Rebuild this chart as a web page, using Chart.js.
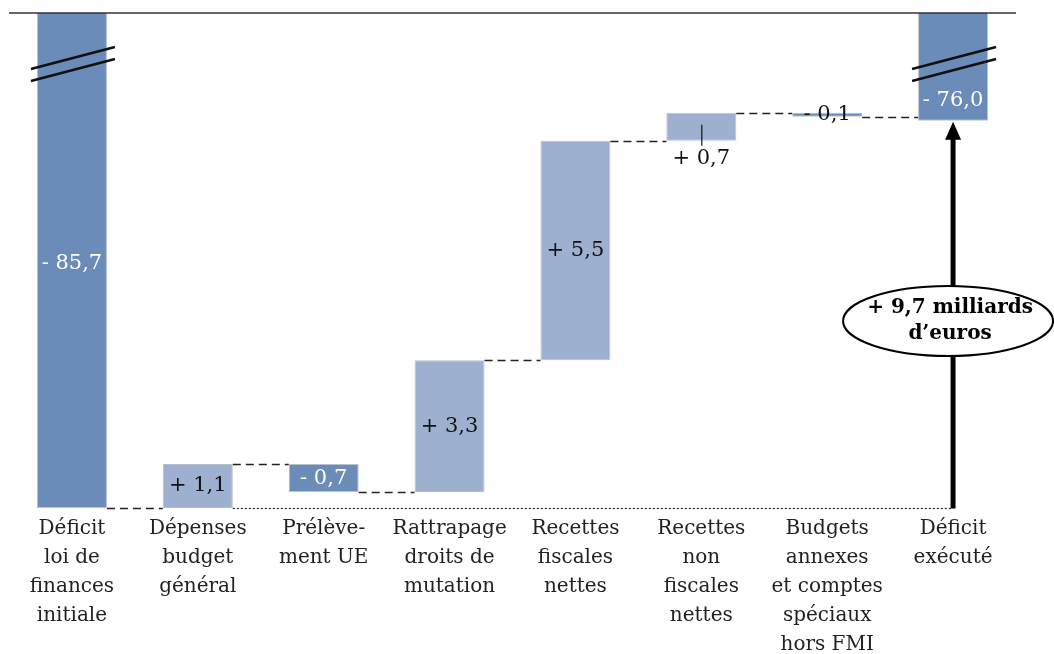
<!DOCTYPE html>
<html>
<head>
<meta charset="utf-8">
<script src="https://cdn.jsdelivr.net/npm/chart.js@4.4.0/dist/chart.umd.min.js"></script>
<style>
  html, body { margin: 0; padding: 0; background: #fff; }
  #wrap { width: 1054px; height: 654px; }
</style>
</head>
<body>
<div id="wrap"><canvas id="chart"></canvas></div>
<script>
// Passage du déficit de la LFI au déficit exécuté (milliards d'euros)
const categories = [
  ['Déficit', 'loi de', 'finances', 'initiale'],
  ['Dépenses', 'budget', 'général'],
  ['Prélève-', 'ment UE'],
  ['Rattrapage', 'droits de', 'mutation'],
  ['Recettes', 'fiscales', 'nettes'],
  ['Recettes', 'non', 'fiscales', 'nettes'],
  ['Budgets', 'annexes', 'et comptes', 'spéciaux', 'hors FMI'],
  ['Déficit', 'exécuté']
];
const deficitInitial = -85.7;
const variations = [1.1, -0.7, 3.3, 5.5, 0.7, -0.1];
const deficitFinal = -76.0;
const valueLabels = ['- 85,7', '+ 1,1', '- 0,7', '+ 3,3', '+ 5,5', '+ 0,7', '- 0,1', '- 76,0'];
const ecartLabel = ['+ 9,7 milliards', 'd\u2019euros'];
const axisMin = -85.7;
const axisMax = -73.3;

const darkBlue = '#6b8bb8';
const lightBlue = '#9db0cf';
const serif = "'DejaVu Serif', 'Liberation Serif', serif";

// barres flottantes : [départ, arrivée]
const floating = [[0, deficitInitial]];
let level = deficitInitial;
variations.forEach(v => {
  floating.push([level, level + v]);
  level += v;
});
floating.push([0, deficitFinal]);

const colors = floating.map((d, i) => {
  if (i === 0 || i === floating.length - 1) return darkBlue;
  return variations[i - 1] < 0 ? darkBlue : lightBlue;
});

const waterfallDecor = {
  id: 'waterfallDecor',
  afterDatasetsDraw(chart) {
    const ctx = chart.ctx;
    const area = chart.chartArea;
    const y = chart.scales.y;
    const bars = chart.getDatasetMeta(0).data;
    const n = bars.length;
    const px = v => y.getPixelForValue(v);

    ctx.save();
    // trait du haut
    ctx.strokeStyle = '#333';
    ctx.lineWidth = 1.5;
    ctx.beginPath();
    ctx.moveTo(area.left, area.top);
    ctx.lineTo(area.right, area.top);
    ctx.stroke();

    // connecteurs en tirets
    ctx.lineWidth = 1.3;
    ctx.strokeStyle = '#222';
    ctx.setLineDash([8, 5]);
    for (let i = 0; i < n - 1; i++) {
      const b = bars[i], nb = bars[i + 1];
      const py = Math.round(px(floating[i][1])) + 0.5;
      ctx.beginPath();
      ctx.moveTo(b.x + b.width / 2, py);
      ctx.lineTo(nb.x - nb.width / 2, py);
      ctx.stroke();
    }
    // ligne de base pointillée
    const baseY = Math.round(px(deficitInitial)) + 0.5;
    ctx.setLineDash([2, 2]);
    ctx.lineWidth = 1.2;
    ctx.beginPath();
    ctx.moveTo(bars[1].x + bars[1].width / 2, baseY);
    ctx.lineTo(bars[n - 1].x, baseY);
    ctx.stroke();
    ctx.setLineDash([]);

    // marques de rupture
    [0, n - 1].forEach(i => {
      const b = bars[i];
      ctx.strokeStyle = '#111';
      ctx.lineWidth = 2.5;
      [0, 12].forEach(off => {
        ctx.beginPath();
        ctx.moveTo(b.x - b.width / 2 - 6, area.top + 56 + off);
        ctx.lineTo(b.x + b.width / 2 + 8, area.top + 34 + off);
        ctx.stroke();
      });
    });

    // étiquettes de valeurs
    ctx.font = '21px ' + serif;
    ctx.textAlign = 'center';
    ctx.textBaseline = 'middle';
    bars.forEach((b, i) => {
      const dark = colors[i] === darkBlue;
      const yStart = px(floating[i][0]);
      const yEnd = px(floating[i][1]);
      const lower = Math.max(yStart, yEnd);
      let ty;
      if (i === 0) {
        ty = (area.top + yEnd) / 2 + 3;
      } else if (i === n - 1) {
        ty = yEnd - 20;
      } else if (i === 5) {
        ty = lower + 18;
      } else {
        ty = (yStart + yEnd) / 2;
      }
      ctx.fillStyle = (dark && i !== 6) ? '#fff' : '#111';
      ctx.fillText(valueLabels[i], b.x, ty);
    });
    // petit trait sous la barre recettes non fiscales
    const b5 = bars[5];
    const mid5 = (px(floating[5][0]) + px(floating[5][1])) / 2;
    ctx.strokeStyle = '#111';
    ctx.lineWidth = 1.2;
    ctx.beginPath();
    ctx.moveTo(b5.x + 0.5, mid5 - 2);
    ctx.lineTo(b5.x + 0.5, Math.max(px(floating[5][0]), px(floating[5][1])) + 5);
    ctx.stroke();

    // flèche d'écart
    const last = bars[n - 1];
    const ax = last.x;
    const topY = px(deficitFinal);
    ctx.strokeStyle = '#000';
    ctx.fillStyle = '#000';
    ctx.lineWidth = 5;
    ctx.beginPath();
    ctx.moveTo(ax, baseY);
    ctx.lineTo(ax, topY + 16);
    ctx.stroke();
    ctx.beginPath();
    ctx.moveTo(ax, topY + 1);
    ctx.lineTo(ax - 8, topY + 19);
    ctx.lineTo(ax + 8, topY + 19);
    ctx.closePath();
    ctx.fill();

    // ellipse
    const ey = 321;
    ctx.beginPath();
    ctx.ellipse(ax - 5, ey, 105, 35, 0, 0, Math.PI * 2);
    ctx.fillStyle = '#fff';
    ctx.fill();
    ctx.lineWidth = 2;
    ctx.strokeStyle = '#000';
    ctx.stroke();
    ctx.fillStyle = '#000';
    ctx.font = 'bold 20px ' + serif;
    ctx.fillText(ecartLabel[0], ax - 3, ey - 13);
    ctx.fillText(ecartLabel[1], ax - 3, ey + 13);
    ctx.restore();
  }
};

new Chart(document.getElementById('chart'), {
  type: 'bar',
  data: {
    labels: categories,
    datasets: [{
      data: floating,
      backgroundColor: colors,
      borderColor: '#b8c0cc',
      borderWidth: 1,
      borderSkipped: false,
      barPercentage: 0.556,
      categoryPercentage: 1
    }]
  },
  options: {
    responsive: true,
    maintainAspectRatio: false,
    animation: false,
    layout: { padding: { top: 13, left: 9, right: 38, bottom: 0 } },
    plugins: {
      legend: { display: false },
      tooltip: { enabled: false }
    },
    scales: {
      y: {
        display: false,
        min: axisMin,
        max: axisMax
      },
      x: {
        grid: { display: false, drawTicks: false },
        border: { display: false },
        afterFit: scale => { scale.height = 146; },
        ticks: {
          autoSkip: false,
          maxRotation: 0,
          minRotation: 0,
          padding: 6,
          color: '#222',
          font: { family: serif, size: 20, lineHeight: 1.45 }
        }
      }
    }
  },
  plugins: [waterfallDecor]
});
</script>
</body>
</html>
